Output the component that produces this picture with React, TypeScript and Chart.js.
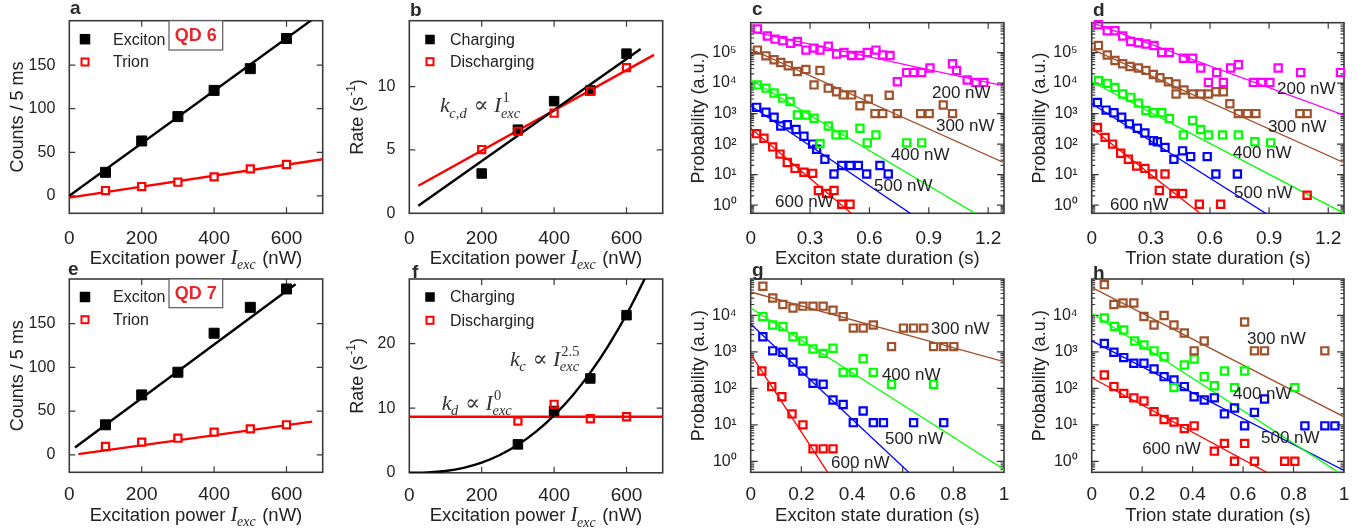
import { useEffect, useRef } from 'react';
import { Chart, registerables } from 'chart.js';

Chart.register(...registerables);

const SANS = '"Liberation Sans", Arial, Helvetica, sans-serif';
const SERIF = '"Liberation Serif", "DejaVu Serif", "Times New Roman", serif';
const INK = '#222222';
const FRAME = '#3a3a3a';
const RED = '#ff0000';
const BLACK = '#000000';
const MAGENTA = '#ff00ff';
const BROWN = '#a0522d';
const GREEN = '#00ff00';
const BLUE = '#0000ff';
const QD_RED = '#e8262b';

// ---------- tick values / labels ----------
const powerTicks = [0, 200, 400, 600];
const powerTickLabels = ['0', '200', '400', '600'];
const countTicks = [0, 50, 100, 150];
const countTickLabels = ['0', '50', '100', '150'];
const rateTicksB = [0, 5, 10];
const rateTickLabelsB = ['0', '5', '10'];
const rateTicksF = [0, 10, 20];
const rateTickLabelsF = ['0', '10', '20'];
const durTicksLong = [0, 0.3, 0.6, 0.9, 1.2];
const durTickLabelsLong = ['0', '0.3', '0.6', '0.9', '1.2'];
const durTicksShort = [0, 0.2, 0.4, 0.6, 0.8, 1];
const durTickLabelsShort = ['0', '0.2', '0.4', '0.6', '0.8', '1'];
const probTicks6 = [1, 10, 100, 1e3, 1e4, 1e5];
const probTickLabels6 = ['10⁰', '10¹', '10²', '10³', '10⁴', '10⁵'];
const probTicks5 = [1, 10, 100, 1e3, 1e4];
const probTickLabels5 = ['10⁰', '10¹', '10²', '10³', '10⁴'];

// ---------- panel a (QD 6 counts) ----------
const powerA = [100, 200, 300, 400, 500, 600];
const excitonCountsA = [27, 63, 91, 121, 146, 180.6];
const trionCountsA = [6.1, 10.7, 15.7, 21.8, 31, 36];
const excitonFitAx = [0, 700];
const excitonFitAy = [0, 211];
const trionFitAx = [0, 700];
const trionFitAy = [-2, 42];

// ---------- panel b (QD 6 rates) ----------
const powerB = [200, 300, 400, 500, 600];
const chargingB = [3.14, 6.6, 8.85, 9.69, 12.6];
const dischargingB = [5.03, 6.47, 7.9, 9.63, 11.5];
const chargingFitBx = [25, 639];
const chargingFitBy = [0.6, 12.96];
const dischargingFitBx = [25, 676];
const dischargingFitBy = [2.17, 12.5];

// ---------- panel c (QD 6 exciton durations) ----------
const c200x = [0.034, 0.084, 0.123, 0.162, 0.202, 0.236, 0.279, 0.32, 0.35, 0.392, 0.434, 0.471, 0.51, 0.552, 0.589, 0.633, 0.667, 0.704, 0.741, 0.788, 0.822, 0.864, 0.906, 1.02, 1.04, 1.094, 1.138, 1.178];
const c200y = [5.9e5, 3.5e5, 2.75e5, 2.45e5, 2.0e5, 2.3e5, 1.2e5, 1.4e5, 1.2e5, 1.6e5, 9e4, 1e5, 8e4, 8e4, 1e5, 1.2e5, 8.3e4, 8e4, 1.1e4, 2.2e4, 2.2e4, 2.2e4, 3.1e4, 4.3e4, 2.6e4, 1.26e4, 1.05e4, 1.05e4];
const c300x = [0.034, 0.077, 0.118, 0.152, 0.19, 0.236, 0.279, 0.32, 0.35, 0.392, 0.434, 0.468, 0.51, 0.552, 0.594, 0.628, 0.667, 0.7, 0.741, 0.859, 0.902, 0.973, 1.02];
const c300y = [1.2e5, 7.8e4, 5.8e4, 4.7e4, 3.7e4, 2.4e4, 2.8e4, 8.7e3, 2.6e4, 6.8e3, 5.2e3, 4.1e3, 4.1e3, 1.8e3, 3e3, 1e3, 1e3, 4e3, 1e3, 1e3, 1e3, 1.9e3, 1e3];
const c400x = [0.034, 0.077, 0.118, 0.162, 0.199, 0.236, 0.279, 0.32, 0.35, 0.392, 0.431, 0.468, 0.552, 0.589, 0.633, 0.788, 0.864];
const c400y = [8.7e3, 6.8e3, 4.7e3, 3.2e3, 2.5e3, 900, 900, 700, 105, 390, 200, 200, 330, 110, 200, 110, 110];
const c500x = [0.03, 0.077, 0.118, 0.152, 0.185, 0.229, 0.269, 0.313, 0.333, 0.375, 0.421, 0.46, 0.502, 0.544, 0.586, 0.653, 0.695];
const c500y = [1.6e3, 1.1e3, 760, 390, 430, 300, 180, 100, 68, 32, 10.5, 20, 20, 20, 10.5, 20, 10.5];
const c600x = [0.03, 0.067, 0.111, 0.148, 0.185, 0.224, 0.269, 0.313, 0.342, 0.384, 0.421, 0.46, 0.502];
const c600y = [220, 155, 81, 47, 25, 16, 12, 11, 3, 2.4, 3, 1.07, 1.07];
const c200FitX = [0, 1.28];
const c200FitY = [4.9e5, 8.1e3];
const c300FitX = [0, 1.28];
const c300FitY = [1.3e5, 24.5];
const c400FitX = [0, 1.2];
const c400FitY = [1.26e4, 0.3];
const c500FitX = [0, 0.9];
const c500FitY = [1.8e3, 0.21];
const c600FitX = [0, 0.6];
const c600FitY = [330, 0.17];

// ---------- panel d (QD 6 trion durations) ----------
const d200x = [0.034, 0.079, 0.118, 0.157, 0.198, 0.237, 0.275, 0.316, 0.355, 0.394, 0.465, 0.512, 0.553, 0.592, 0.634, 0.668, 0.705, 0.744, 0.82, 0.862, 0.904, 0.946, 1.06, 1.262];
const d200y = [8.1e5, 5.2e5, 5.2e5, 3.5e5, 2.3e5, 2.1e5, 1.9e5, 1.7e5, 1e5, 1e5, 6.5e4, 6.5e4, 3.1e4, 1.05e4, 2.2e4, 1.05e4, 3.1e4, 4e4, 1.05e4, 1.05e4, 1.05e4, 3.1e4, 2.2e4, 2.2e4];
const d300x = [0.034, 0.079, 0.118, 0.157, 0.194, 0.237, 0.275, 0.313, 0.346, 0.389, 0.428, 0.428, 0.468, 0.512, 0.553, 0.592, 0.63, 0.668, 0.701, 0.744, 0.789, 0.833, 1.056, 1.093];
const d300y = [1.7e5, 8.3e4, 5.5e4, 4.3e4, 3.5e4, 3.1e4, 2.6e4, 1.9e4, 1.5e4, 1.1e4, 9.3e3, 4.4e3, 5.9e3, 4.4e3, 4.4e3, 4.4e3, 5.2e3, 5.2e3, 2.1e3, 1e3, 1e3, 1e3, 1e3, 1e3];
const d400x = [0.034, 0.079, 0.118, 0.157, 0.198, 0.237, 0.275, 0.313, 0.355, 0.394, 0.465, 0.512, 0.553, 0.592, 0.664, 0.744, 0.828, 0.908];
const d400y = [1.2e4, 9.8e3, 7.2e3, 4.4e3, 3.4e3, 2.2e3, 1.26e3, 1.07e3, 1.07e3, 690, 200, 590, 300, 200, 200, 200, 120, 110];
const d500x = [0.029, 0.073, 0.113, 0.152, 0.191, 0.232, 0.27, 0.313, 0.333, 0.372, 0.417, 0.461, 0.502, 0.586, 0.63, 0.739];
const d500y = [2.3e3, 1.3e3, 1.07e3, 760, 460, 330, 230, 130, 120, 78, 32, 60, 39, 39, 10.5, 10.5];
const d600x = [0.029, 0.068, 0.106, 0.147, 0.186, 0.228, 0.27, 0.309, 0.343, 0.372, 0.417, 0.461, 0.546, 0.654, 1.093];
const d600y = [350, 166, 100, 50, 32, 19, 16, 10.5, 3, 10.5, 2.4, 2.4, 1.07, 1.07, 2.1];
const d200FitX = [0, 1.28];
const d200FitY = [9.5e5, 890];
const d300FitX = [0, 1.28];
const d300FitY = [1.3e5, 24.5];
const d400FitX = [0, 1.28];
const d400FitY = [1.1e4, 0.54];
const d500FitX = [0, 1.0];
const d500FitY = [2.1e3, 0.18];
const d600FitX = [0, 0.6];
const d600FitY = [330, 0.3];

// ---------- panel e (QD 7 counts) ----------
const powerE = [100, 200, 300, 400, 500, 600];
const excitonCountsE = [34.3, 68.5, 94.4, 139, 168.6, 189.6];
const trionCountsE = [9.5, 14.5, 19, 25.9, 29.7, 34.3];
const excitonFitEx = [15.7, 625];
const excitonFitEy = [8.4, 195];
const trionFitEx = [25, 671];
const trionFitEy = [0.8, 38];

// ---------- panel f (QD 7 rates) ----------
const powerF = [300, 400, 500, 600];
const chargingF = [4.4, 9.56, 14.6, 24.4];
const dischargingF = [8.0, 10.6, 8.37, 8.68];
const chargingCurveFx = [0, 50, 100, 150, 200, 250, 300, 350, 400, 450, 500, 550, 600, 650, 700];
const chargingCurveFy = [0, 0.05, 0.28, 0.77, 1.57, 2.75, 4.33, 6.37, 8.9, 11.9, 15.5, 19.7, 24.5, 30, 36];
const dischargingFitFx = [0, 700];
const dischargingFitFy = [8.68, 8.68];

// ---------- panel g (QD 7 exciton durations) ----------
const g300x = [0.048, 0.087, 0.127, 0.167, 0.206, 0.246, 0.286, 0.325, 0.365, 0.405, 0.444, 0.484, 0.556, 0.603, 0.643, 0.683, 0.722, 0.762, 0.802];
const g300y = [6.3e4, 3e4, 2e4, 1.6e4, 1.8e4, 1.8e4, 1.8e4, 1.4e4, 9.3e3, 4.5e3, 4.5e3, 5.5e3, 1.4e3, 4.5e3, 4.5e3, 4.5e3, 1.4e3, 1.4e3, 1.4e3];
const g400x = [0.048, 0.087, 0.127, 0.167, 0.206, 0.246, 0.286, 0.325, 0.365, 0.405, 0.444, 0.484, 0.556, 0.722];
const g400y = [9.3e3, 5.5e3, 5e3, 2.6e3, 2e3, 1.2e3, 910, 1.26e3, 275, 275, 650, 275, 130, 130];
const g500x = [0.048, 0.087, 0.127, 0.167, 0.206, 0.246, 0.286, 0.325, 0.365, 0.405, 0.444, 0.484, 0.524, 0.643, 0.762];
const g500y = [2.6e3, 1.07e3, 980, 525, 300, 138, 130, 48, 36, 11.5, 24, 11.5, 11.5, 11.5, 11.5];
const g600x = [0.044, 0.083, 0.123, 0.163, 0.206, 0.246, 0.286, 0.325];
const g600y = [300, 112, 59, 20, 10, 2.2, 2.2, 2.2];
const g300FitX = [0, 1];
const g300FitY = [4.4e4, 540];
const g400FitX = [0, 1];
const g400FitY = [1.6e4, 0.6];
const g500FitX = [0, 0.7];
const g500FitY = [5.8e3, 0.16];
const g600FitX = [0, 0.35];
const g600FitY = [870, 0.16];

// ---------- panel h (QD 7 trion durations) ----------
const h300x = [0.05, 0.088, 0.124, 0.167, 0.207, 0.247, 0.287, 0.326, 0.367, 0.406, 0.446, 0.606, 0.645, 0.685, 0.924];
const h300y = [7e4, 2e4, 2.2e4, 2.2e4, 9.4e3, 5.5e3, 1e4, 5.5e3, 3.3e3, 1.07e3, 2e3, 6.6e3, 1.07e3, 1.07e3, 1.07e3];
const h400x = [0.05, 0.09, 0.127, 0.17, 0.207, 0.247, 0.287, 0.326, 0.367, 0.406, 0.446, 0.486, 0.526, 0.566, 0.606, 0.805];
const h400y = [8.5e3, 5e3, 4e3, 2e3, 1.55e3, 1.07e3, 740, 105, 440, 640, 210, 118, 300, 105, 300, 105];
const h500x = [0.05, 0.088, 0.127, 0.167, 0.207, 0.247, 0.287, 0.326, 0.367, 0.406, 0.446, 0.486, 0.526, 0.566, 0.606, 0.645, 0.685, 0.845, 0.924, 0.964];
const h500y = [1.7e3, 980, 700, 490, 490, 340, 210, 170, 112, 59, 48, 55, 20, 29, 9.4, 22, 51, 9.4, 9.4, 9.4];
const h600x = [0.05, 0.088, 0.127, 0.167, 0.207, 0.247, 0.287, 0.326, 0.367, 0.406, 0.486, 0.526, 0.566, 0.606, 0.645, 0.765, 0.805];
const h600y = [234, 112, 73, 55, 45, 23, 14, 12, 7.9, 9.4, 1.9, 3.1, 1, 3.1, 1, 1, 1];
const h300FitX = [0, 1];
const h300FitY = [5.9e4, 16.6];
const h400FitX = [0, 1];
const h400FitY = [1.15e4, 0.4];
const h500FitX = [0, 1];
const h500FitY = [2e3, 0.56];
const h600FitX = [0, 0.8];
const h600FitY = [196, 0.2];

// ---------- helpers ----------
type Seg = { t: string; m?: boolean; sym?: boolean; sub?: string; sup?: string };

const pts = (xs: number[], ys: number[]) => xs.map((x, i) => ({ x, y: ys[i] }));

function markers(xs: number[], ys: number[], color: string, filled: boolean, side: number, order: number, fill = 'rgba(0,0,0,0)', lwOpen = 2.2) {
  const lw = filled ? 1 : lwOpen;
  return {
    data: pts(xs, ys),
    showLine: false,
    pointStyle: 'rect',
    pointRadius: (side - lw) / Math.SQRT2,
    pointBorderWidth: lw,
    pointBorderColor: color,
    pointBackgroundColor: filled ? color : fill,
    borderColor: color,
    backgroundColor: filled ? color : fill,
    order,
    clip: false,
  };
}

function fitLine(xs: number[], ys: number[], color: string, width: number, smooth = false) {
  return {
    data: pts(xs, ys),
    showLine: true,
    pointRadius: 0,
    borderColor: color,
    backgroundColor: color,
    borderWidth: width,
    order: 5,
    tension: 0,
    cubicInterpolationMode: smooth ? 'monotone' : 'default',
  };
}

function fontFor(kind: string, size: number) {
  if (kind === 'sans') return `${size}px ${SANS}`;
  if (kind === 'it') return `italic ${size}px ${SERIF}`;
  return `${size}px ${SERIF}`;
}
function scriptKind(txt: string, s: Seg) {
  if (!s.m) return 'sans';
  return /^[0-9.,\-]+$/.test(txt) ? 'rm' : 'it';
}
function drawRich(ctx: CanvasRenderingContext2D, segs: Seg[], x: number, yMid: number, align: string, size: number, msize: number, color: string) {
  const items: any[] = [];
  let w = 0;
  for (const s of segs) {
    const kind = s.m ? 'it' : s.sym ? 'rm' : 'sans';
    const sz = s.m || s.sym ? msize : size;
    ctx.font = fontFor(kind, sz);
    const mw = ctx.measureText(s.t).width;
    const ss = sz * 0.66;
    let subW = 0;
    let supW = 0;
    if (s.sub) { ctx.font = fontFor(scriptKind(s.sub, s), ss); subW = ctx.measureText(s.sub).width; }
    if (s.sup) { ctx.font = fontFor(scriptKind(s.sup, s), ss); supW = ctx.measureText(s.sup).width; }
    items.push({ s, kind, sz, ss, x: w, mw });
    w += mw + Math.max(subW, supW) + (subW || supW ? 1 : 0);
  }
  const x0 = align === 'center' ? x - w / 2 : x;
  const base = yMid + size * 0.36;
  ctx.save();
  ctx.fillStyle = color;
  ctx.textAlign = 'left';
  ctx.textBaseline = 'alphabetic';
  for (const it of items) {
    ctx.font = fontFor(it.kind, it.sz);
    ctx.fillText(it.s.t, x0 + it.x, base);
    const sx = x0 + it.x + it.mw + 1;
    if (it.s.sub) {
      ctx.font = fontFor(scriptKind(it.s.sub, it.s), it.ss);
      ctx.fillText(it.s.sub, sx - (it.s.m ? 1.5 : 0), base + it.sz * 0.26);
    }
    if (it.s.sup) {
      ctx.font = fontFor(scriptKind(it.s.sup, it.s), it.ss);
      ctx.fillText(it.s.sup, sx, base - it.sz * 0.45);
    }
  }
  ctx.restore();
}

const xTitlePower: Seg[] = [{ t: 'Excitation power ' }, { t: 'I', m: true, sub: 'exc' }, { t: ' (nW)' }];
const yTitleCounts: Seg[] = [{ t: 'Counts / 5 ms' }];
const yTitleRate: Seg[] = [{ t: 'Rate (s', sup: '-1' }, { t: ')' }];
const yTitleProb: Seg[] = [{ t: 'Probability (a.u.)' }];

const nw = (t: string, x: number, y: number) => ({ segs: [{ t }], x, y, size: 17, msize: 17 });

const legendCounts = [
  { label: 'Exciton', color: BLACK, filled: true, side: 10.5 },
  { label: 'Trion', color: RED, filled: false, side: 9 },
];
const legendRates = [
  { label: 'Charging', color: BLACK, filled: true, side: 9.5 },
  { label: 'Discharging', color: RED, filled: false, side: 9 },
];

const SQ = 9.4;

const PANELS: any[] = [
  {
    key: 'a', box: [0, 0, 340, 270], area: [69.3, 20.7, 322.7, 213.3], letter: 'a', letterXY: [70, 13.5],
    xRange: [0, 700], xTicks: powerTicks, xTickLabels: powerTickLabels,
    yLog: false, yRange: [-20, 201], yTicks: countTicks, yTickLabels: countTickLabels,
    xTitle: xTitlePower, yTitle: yTitleCounts, xTitleDy: 44, xLabelPad: 13.6,
    datasets: [
      markers(powerA, trionCountsA, RED, false, 9.3, 0, '#ffffff'),
      markers(powerA, excitonCountsA, BLACK, true, 11, 1),
      fitLine(excitonFitAx, excitonFitAy, BLACK, 2.4),
      fitLine(trionFitAx, trionFitAy, RED, 2.4),
    ],
    legend: { items: legendCounts, mx: 15.7, tx: 43.7, ys: [18.5, 41.3] },
    qd: { text: 'QD 6', rect: [169, 20.7, 53.7, 29.3] },
  },
  {
    key: 'b', box: [340, 0, 340, 270], area: [409.3, 20.7, 662.7, 213.3], letter: 'b', letterXY: [410, 16],
    xRange: [0, 700], xTicks: powerTicks, xTickLabels: powerTickLabels,
    yLog: false, yRange: [0, 15.2], yTicks: rateTicksB, yTickLabels: rateTickLabelsB,
    xTitle: xTitlePower, yTitle: yTitleRate, xTitleDy: 44, xLabelPad: 13.6,
    datasets: [
      markers(powerB, dischargingB, RED, false, 9.3, 0),
      markers(powerB, chargingB, BLACK, true, 10.5, 1),
      fitLine(chargingFitBx, chargingFitBy, BLACK, 2.4),
      fitLine(dischargingFitBx, dischargingFitBy, RED, 2.4),
    ],
    legend: { items: legendRates, mx: 20.7, tx: 40.7, ys: [18.8, 41] },
    notes: [{ segs: [{ t: 'k', m: true, sub: 'c,d' }, { t: ' ∝ ', sym: true }, { t: 'I', m: true, sup: '1', sub: 'exc' }], x: 85, y: 8.6, size: 22, msize: 22, color: '#333333' }],
  },
  {
    key: 'c', box: [680, 0, 342, 270], area: [750.7, 22.7, 1004, 213.3], letter: 'c', letterXY: [752, 15],
    xRange: [0, 1.28], xTicks: durTicksLong, xTickLabels: durTickLabelsLong,
    yLog: true, yRange: [0.54, 9.5e5], yTicks: probTicks6, yTickLabels: probTickLabels6,
    xTitle: [{ t: 'Exciton state duration (s)' }], yTitle: yTitleProb, xTitleDy: 44, xLabelPad: 13.6,
    datasets: [
      markers(c200x, c200y, MAGENTA, false, SQ, 0),
      markers(c300x, c300y, BROWN, false, SQ, 0),
      markers(c400x, c400y, GREEN, false, SQ, 0),
      markers(c500x, c500y, BLUE, false, SQ, 0),
      markers(c600x, c600y, RED, false, SQ, 0),
      fitLine(c200FitX, c200FitY, MAGENTA, 1.3),
      fitLine(c300FitX, c300FitY, BROWN, 1.3),
      fitLine(c400FitX, c400FitY, GREEN, 1.3),
      fitLine(c500FitX, c500FitY, BLUE, 1.3),
      fitLine(c600FitX, c600FitY, RED, 1.3),
    ],
    notes: [nw('200 nW', 0.916, 5.2e3), nw('300 nW', 0.936, 425), nw('400 nW', 0.709, 47), nw('500 nW', 0.623, 4.5), nw('600 nW', 0.123, 1.35)],
  },
  {
    key: 'd', box: [1022, 0, 345, 270], area: [1091.7, 22.7, 1344, 213.3], letter: 'd', letterXY: [1093, 16],
    xRange: [0, 1.28], xTicks: durTicksLong, xTickLabels: durTickLabelsLong,
    yLog: true, yRange: [0.54, 9.5e5], yTicks: probTicks6, yTickLabels: probTickLabels6,
    xTitle: [{ t: 'Trion state duration (s)' }], yTitle: yTitleProb, xTitleDy: 44, xLabelPad: 13.6,
    datasets: [
      markers(d200x, d200y, MAGENTA, false, SQ, 0),
      markers(d300x, d300y, BROWN, false, SQ, 0),
      markers(d400x, d400y, GREEN, false, SQ, 0),
      markers(d500x, d500y, BLUE, false, SQ, 0),
      markers(d600x, d600y, RED, false, SQ, 0),
      fitLine(d200FitX, d200FitY, MAGENTA, 1.3),
      fitLine(d300FitX, d300FitY, BROWN, 1.3),
      fitLine(d400FitX, d400FitY, GREEN, 1.3),
      fitLine(d500FitX, d500FitY, BLUE, 1.3),
      fitLine(d600FitX, d600FitY, RED, 1.3),
    ],
    notes: [nw('200 nW', 0.94, 6.8e3), nw('300 nW', 0.894, 390), nw('400 nW', 0.717, 56), nw('500 nW', 0.722, 2.7), nw('600 nW', 0.093, 1.1)],
  },
  {
    key: 'e', box: [0, 250, 340, 280], area: [69.3, 279, 322.7, 472.3], letter: 'e', letterXY: [68, 275],
    xRange: [0, 700], xTicks: powerTicks, xTickLabels: powerTickLabels,
    yLog: false, yRange: [-20, 201], yTicks: countTicks, yTickLabels: countTickLabels,
    xTitle: xTitlePower, yTitle: yTitleCounts, xTitleDy: 42, xLabelPad: 11.4,
    datasets: [
      markers(powerE, trionCountsE, RED, false, 9.3, 0, '#ffffff'),
      markers(powerE, excitonCountsE, BLACK, true, 11, 1),
      fitLine(excitonFitEx, excitonFitEy, BLACK, 2.4),
      fitLine(trionFitEx, trionFitEy, RED, 2.4),
    ],
    legend: { items: legendCounts, mx: 15.7, tx: 43.7, ys: [18, 40.7] },
    qd: { text: 'QD 7', rect: [169, 279, 53.7, 28.7] },
  },
  {
    key: 'f', box: [340, 250, 340, 280], area: [409.3, 279, 662.7, 472.8], letter: 'f', letterXY: [412, 278],
    xRange: [0, 700], xTicks: powerTicks, xTickLabels: powerTickLabels,
    yLog: false, yRange: [0, 30], yTicks: rateTicksF, yTickLabels: rateTickLabelsF,
    xTitle: xTitlePower, yTitle: yTitleRate, xTitleDy: 42, xLabelPad: 11.4,
    datasets: [
      markers(powerF, dischargingF, RED, false, 9.3, 0),
      markers(powerF, chargingF, BLACK, true, 10.5, 1),
      fitLine(chargingCurveFx, chargingCurveFy, BLACK, 2.4, true),
      fitLine(dischargingFitFx, dischargingFitFy, RED, 2.4),
    ],
    legend: { items: legendRates, mx: 20.7, tx: 40.7, ys: [18, 41.3] },
    notes: [
      { segs: [{ t: 'k', m: true, sub: 'c' }, { t: ' ∝ ', sym: true }, { t: 'I', m: true, sup: '2.5', sub: 'exc' }], x: 278, y: 17.8, size: 22, msize: 22, color: '#333333' },
      { segs: [{ t: 'k', m: true, sub: 'd' }, { t: ' ∝ ', sym: true }, { t: 'I', m: true, sup: '0', sub: 'exc' }], x: 89.5, y: 11, size: 22, msize: 22, color: '#333333' },
    ],
  },
  {
    key: 'g', box: [680, 250, 342, 280], area: [750.7, 279, 1004, 472.3], letter: 'g', letterXY: [752, 276],
    xRange: [0, 1], xTicks: durTicksShort, xTickLabels: durTickLabelsShort,
    yLog: true, yRange: [0.5, 1e5], yTicks: probTicks5, yTickLabels: probTickLabels5,
    xTitle: [{ t: 'Exciton state duration (s)' }], yTitle: yTitleProb, xTitleDy: 42, xLabelPad: 11.4,
    datasets: [
      markers(g300x, g300y, BROWN, false, SQ, 0),
      markers(g400x, g400y, GREEN, false, SQ, 0),
      markers(g500x, g500y, BLUE, false, SQ, 0),
      markers(g600x, g600y, RED, false, SQ, 0),
      fitLine(g300FitX, g300FitY, BROWN, 1.3),
      fitLine(g400FitX, g400FitY, GREEN, 1.3),
      fitLine(g500FitX, g500FitY, BLUE, 1.3),
      fitLine(g600FitX, g600FitY, RED, 1.3),
    ],
    notes: [nw('300 nW', 0.712, 4.5e3), nw('400 nW', 0.518, 258), nw('500 nW', 0.53, 4.4), nw('600 nW', 0.317, 0.96)],
  },
  {
    key: 'h', box: [1022, 250, 345, 280], area: [1091.7, 279, 1344, 472.3], letter: 'h', letterXY: [1093, 279],
    xRange: [0, 1], xTicks: durTicksShort, xTickLabels: durTickLabelsShort,
    yLog: true, yRange: [0.5, 1e5], yTicks: probTicks5, yTickLabels: probTickLabels5,
    xTitle: [{ t: 'Trion state duration (s)' }], yTitle: yTitleProb, xTitleDy: 42, xLabelPad: 11.4,
    datasets: [
      markers(h300x, h300y, BROWN, false, SQ, 0),
      markers(h400x, h400y, GREEN, false, SQ, 0),
      markers(h500x, h500y, BLUE, false, SQ, 0),
      markers(h600x, h600y, RED, false, SQ, 0),
      fitLine(h300FitX, h300FitY, BROWN, 1.3),
      fitLine(h400FitX, h400FitY, GREEN, 1.3),
      fitLine(h500FitX, h500FitY, BLUE, 1.3),
      fitLine(h600FitX, h600FitY, RED, 1.3),
    ],
    notes: [nw('300 nW', 0.616, 2.4e3), nw('400 nW', 0.56, 73), nw('500 nW', 0.671, 4.7), nw('600 nW', 0.2, 2.3)],
  },
];

function makeDecor(cfg: any) {
  const [bx, by] = cfg.box;
  return {
    id: 'decor_' + cfg.key,
    beforeDatasetsDraw(chart: any) {
      const { ctx, chartArea: a, scales } = chart;
      const xs = scales.x;
      const ys = scales.y;
      ctx.save();
      ctx.strokeStyle = FRAME;
      ctx.lineWidth = 1.2;
      ctx.beginPath();
      for (const v of cfg.xTicks) {
        const px = xs.getPixelForValue(v);
        if (px <= a.left + 1 || px >= a.right - 1) continue;
        ctx.moveTo(px, a.bottom);
        ctx.lineTo(px, a.bottom - 6);
        ctx.moveTo(px, a.top);
        ctx.lineTo(px, a.top + 6);
      }
      const yTick = (v: number, len: number) => {
        const py = ys.getPixelForValue(v);
        if (py <= a.top + 1 || py >= a.bottom - 1) return;
        ctx.moveTo(a.left, py);
        ctx.lineTo(a.left + len, py);
        ctx.moveTo(a.right, py);
        ctx.lineTo(a.right - len, py);
      };
      cfg.yTicks.forEach((v: number) => yTick(v, cfg.yLog ? 7 : 6));
      if (cfg.yLog) {
        const d0 = Math.floor(Math.log10(cfg.yRange[0]));
        const d1 = Math.ceil(Math.log10(cfg.yRange[1]));
        for (let d = d0; d <= d1; d++) {
          for (let m = 2; m <= 9; m++) {
            const v = m * Math.pow(10, d);
            if (v > cfg.yRange[0] && v < cfg.yRange[1]) yTick(v, 3.5);
          }
        }
      }
      ctx.stroke();
      ctx.lineWidth = 1.6;
      ctx.strokeRect(a.left, a.top, a.right - a.left, a.bottom - a.top);
      ctx.restore();
    },
    afterDatasetsDraw(chart: any) {
      const { ctx, chartArea: a, scales } = chart;
      ctx.save();
      if (cfg.legend) {
        const L = cfg.legend;
        L.items.forEach((it: any, i: number) => {
          const cx = a.left + L.mx;
          const cy = a.top + L.ys[i];
          const h = it.side / 2;
          if (it.filled) {
            ctx.fillStyle = it.color;
            ctx.fillRect(cx - h, cy - h, it.side, it.side);
          } else {
            ctx.fillStyle = '#ffffff';
            ctx.fillRect(cx - h, cy - h, it.side, it.side);
            ctx.strokeStyle = it.color;
            ctx.lineWidth = 2;
            ctx.strokeRect(cx - h + 1, cy - h + 1, it.side - 2, it.side - 2);
          }
          ctx.fillStyle = INK;
          ctx.font = `16px ${SANS}`;
          ctx.textAlign = 'left';
          ctx.textBaseline = 'middle';
          ctx.fillText(it.label, a.left + L.tx, cy + 1);
        });
      }
      if (cfg.qd) {
        const [qx, qy, qw, qh] = cfg.qd.rect;
        const x = qx - bx;
        const y = qy - by;
        ctx.fillStyle = '#ffffff';
        ctx.fillRect(x, y, qw, qh);
        ctx.strokeStyle = '#5a5a5a';
        ctx.lineWidth = 1.2;
        ctx.strokeRect(x, y, qw, qh);
        ctx.fillStyle = QD_RED;
        ctx.font = `bold 18px ${SANS}`;
        ctx.textAlign = 'center';
        ctx.textBaseline = 'middle';
        ctx.fillText(cfg.qd.text, x + qw / 2, y + qh / 2 + 1);
      }
      (cfg.notes || []).forEach((n: any) => {
        const px = scales.x.getPixelForValue(n.x);
        const py = scales.y.getPixelForValue(n.y);
        drawRich(ctx, n.segs, px, py, 'left', n.size, n.msize, n.color || INK);
      });
      ctx.restore();
    },
    afterDraw(chart: any) {
      const { ctx, chartArea: a } = chart;
      drawRich(ctx, cfg.xTitle, (a.left + a.right) / 2, a.bottom + cfg.xTitleDy, 'center', 18.5, 21, INK);
      ctx.save();
      ctx.translate(a.left - 53, (a.top + a.bottom) / 2);
      ctx.rotate(-Math.PI / 2);
      drawRich(ctx, cfg.yTitle, 0, 0, 'center', 18, 20, INK);
      ctx.restore();
      ctx.save();
      ctx.font = `bold 19px ${SANS}`;
      ctx.fillStyle = '#2a2a2a';
      ctx.textAlign = 'left';
      ctx.textBaseline = 'alphabetic';
      ctx.fillText(cfg.letter, cfg.letterXY[0] - bx, cfg.letterXY[1] - by);
      ctx.restore();
    },
  };
}

function buildConfig(cfg: any) {
  const [bx, by, bw, bh] = cfg.box;
  const [L, T, R, B] = cfg.area;
  return {
    type: 'scatter',
    data: { datasets: cfg.datasets },
    plugins: [makeDecor(cfg)],
    options: {
      responsive: false,
      maintainAspectRatio: false,
      animation: false,
      events: [],
      layout: { padding: { left: 0, top: T - by, right: bx + bw - R, bottom: 0 }, autoPadding: false },
      plugins: { legend: { display: false }, tooltip: { enabled: false }, title: { display: false } },
      scales: {
        x: {
          type: 'linear',
          position: 'bottom',
          min: cfg.xRange[0],
          max: cfg.xRange[1],
          bounds: 'data',
          grid: { display: false, drawTicks: false },
          border: { display: false },
          ticks: {
            autoSkip: false, maxRotation: 0, minRotation: 0, padding: cfg.xLabelPad, color: INK,
            font: { family: SANS, size: 19 },
            callback: (_v: any, i: number) => cfg.xTickLabels[i] ?? '',
          },
          afterBuildTicks: (s: any) => { s.ticks = cfg.xTicks.map((v: number) => ({ value: v })); },
          afterFit: (s: any) => { s.height = by + bh - B; s.paddingLeft = 0; s.paddingRight = 0; },
        },
        y: {
          type: cfg.yLog ? 'logarithmic' : 'linear',
          position: 'left',
          min: cfg.yRange[0],
          max: cfg.yRange[1],
          bounds: 'data',
          grid: { display: false, drawTicks: false },
          border: { display: false },
          ticks: {
            autoSkip: false, padding: 14, color: INK,
            font: { family: SANS, size: 16 },
            callback: (_v: any, i: number) => cfg.yTickLabels[i] ?? '',
          },
          afterBuildTicks: (s: any) => { s.ticks = cfg.yTicks.map((v: number) => ({ value: v })); },
          afterFit: (s: any) => { s.width = L - bx; s.paddingTop = 0; s.paddingBottom = 0; },
        },
      },
    },
  };
}

function Panel({ cfg }: { cfg: any }) {
  const ref = useRef<HTMLCanvasElement>(null);
  useEffect(() => {
    const chart = new Chart(ref.current as HTMLCanvasElement, buildConfig(cfg) as any);
    return () => chart.destroy();
  }, [cfg]);
  const [x, y, w, h] = cfg.box;
  return (
    <canvas
      ref={ref}
      width={w}
      height={h}
      style={{ position: 'absolute', left: x, top: y, width: w, height: h }}
    />
  );
}

export default function App() {
  return (
    <div style={{ position: 'absolute', left: 0, top: 0, width: 1367, height: 530, background: '#ffffff', overflow: 'hidden' }}>
      {PANELS.map((p) => (
        <Panel key={p.key} cfg={p} />
      ))}
    </div>
  );
}
